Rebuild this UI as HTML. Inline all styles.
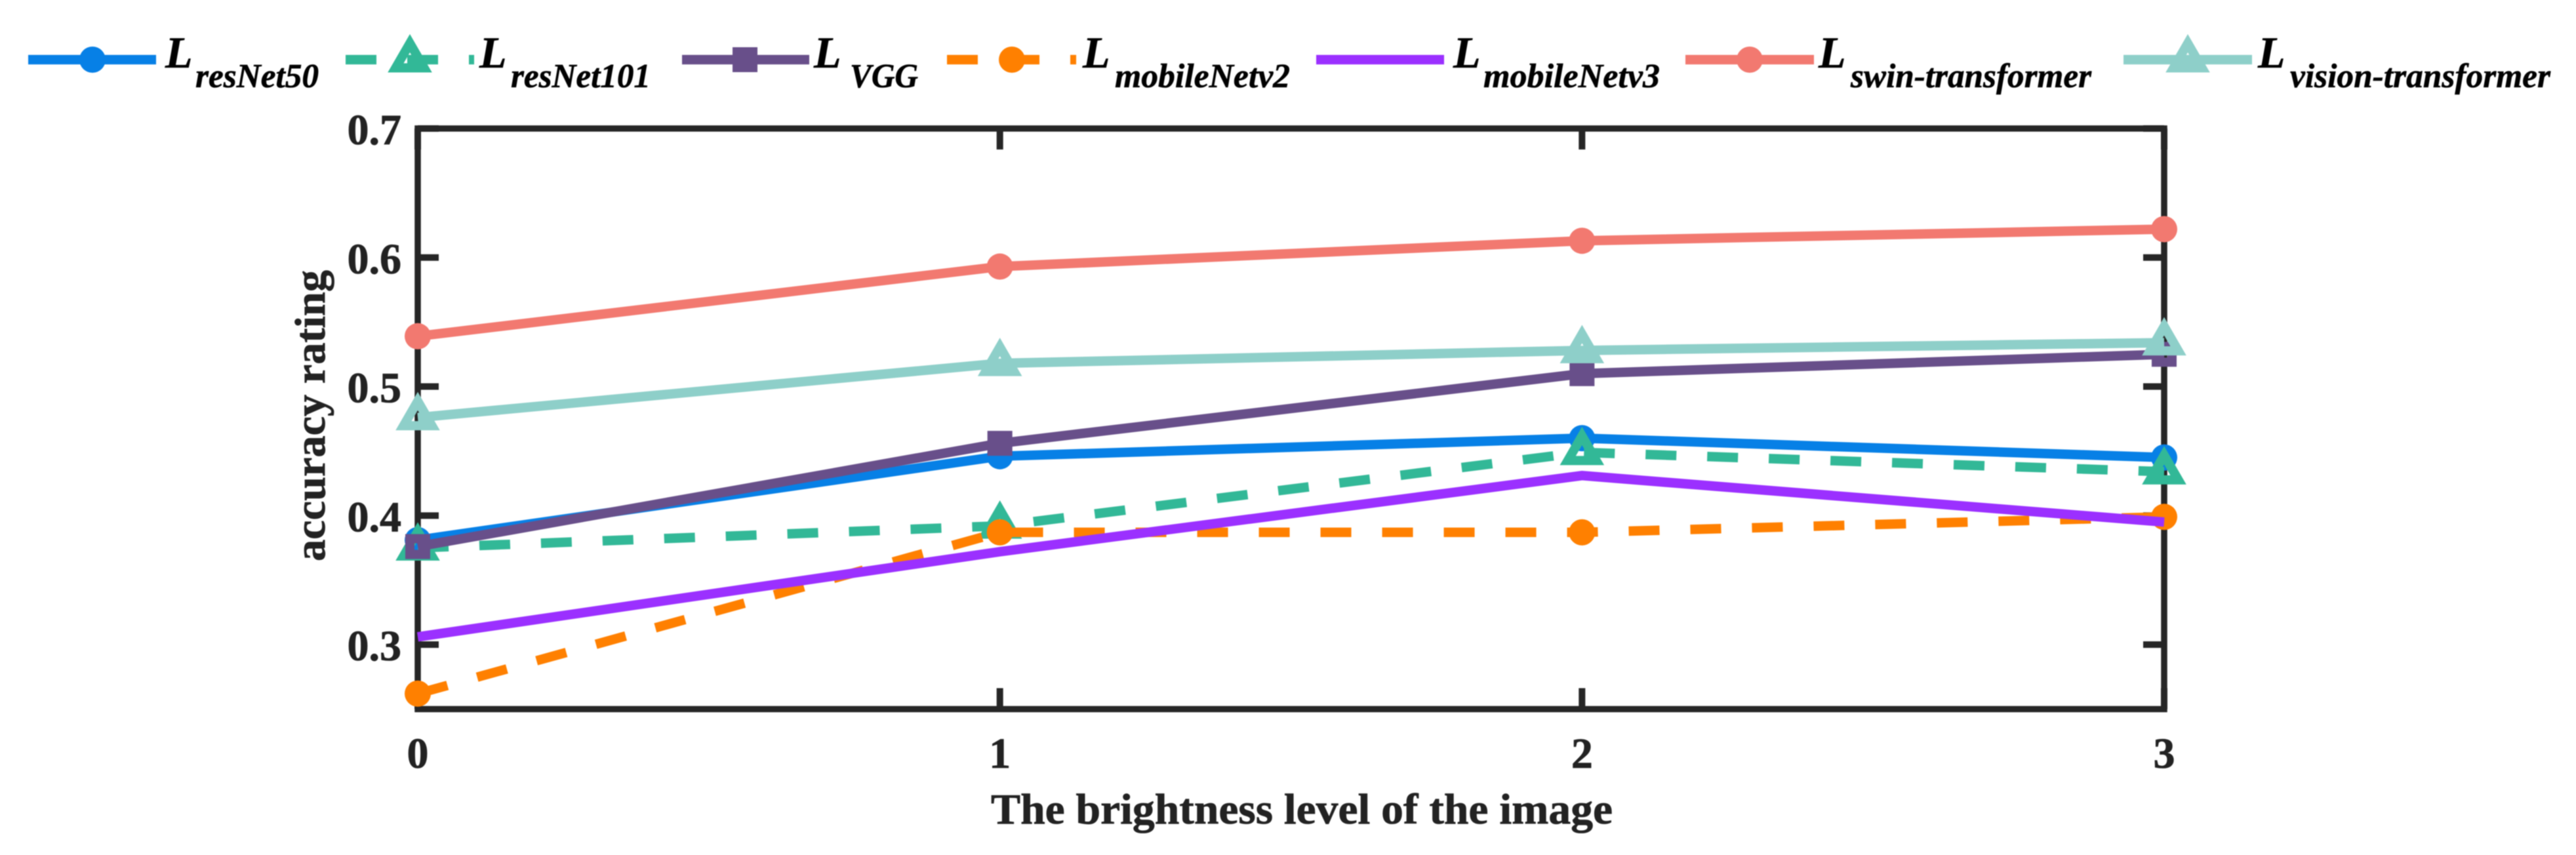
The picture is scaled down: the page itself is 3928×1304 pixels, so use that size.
<!DOCTYPE html>
<html lang="en">
<head>
<meta charset="utf-8">
<title>Accuracy rating vs. image brightness level</title>
<style>
  html, body { margin: 0; padding: 0; background: #ffffff; }
  body { width: 3928px; height: 1304px; overflow: hidden; }
  svg { display: block; filter: blur(0.8px); }
  text { font-family: "Liberation Serif", serif; fill: #222222; }
  .tick-label { font-weight: bold; font-size: 66px; stroke: #222222; stroke-width: 0.8px; }
  .axis-title { font-weight: bold; font-size: 66px; stroke: #222222; stroke-width: 0.8px; }
  .leg-l { font-style: italic; font-weight: bold; font-size: 68px; fill: #000; stroke: #000; stroke-width: 0.6px; }
  .leg-s { font-style: italic; font-weight: bold; font-size: 52px; fill: #000; stroke: #000; stroke-width: 0.6px; }
</style>
</head>
<body>
<svg id="chart" xmlns="http://www.w3.org/2000/svg" width="3928" height="1304" viewBox="0 0 3928 1304">
  <rect x="0" y="0" width="3928" height="1304" fill="#ffffff"/>

  <g id="legend">
    <g>
      <line x1="43" y1="91" x2="238" y2="91" stroke="#0780E6" stroke-width="14.5"/>
      <circle cx="141" cy="91" r="20" fill="#0780E6"/>
      <text class="leg-l" x="252" y="103">L</text>
      <text class="leg-s" x="298" y="133" textLength="188" lengthAdjust="spacingAndGlyphs">resNet50</text>
    </g>
    <g>
      <line x1="527" y1="91" x2="723" y2="91" stroke="#32B897" stroke-width="14.5" stroke-dasharray="47 47"/>
      <polygon points="625,66 646.650,103.500 603.350,103.500" fill="none" stroke="#32B897" stroke-width="14"/>
      <text class="leg-l" x="731" y="103">L</text>
      <text class="leg-s" x="779" y="133" textLength="213" lengthAdjust="spacingAndGlyphs">resNet101</text>
    </g>
    <g>
      <line x1="1040" y1="91" x2="1234" y2="91" stroke="#684F8A" stroke-width="14.5"/>
      <rect x="1124" y="79" width="24" height="24" fill="none" stroke="#684F8A" stroke-width="14"/>
      <text class="leg-l" x="1241" y="103">L</text>
      <text class="leg-s" x="1296" y="133" textLength="104" lengthAdjust="spacingAndGlyphs">VGG</text>
    </g>
    <g>
      <line x1="1444" y1="91" x2="1641" y2="91" stroke="#FF8000" stroke-width="14.5" stroke-dasharray="47 47"/>
      <circle cx="1543" cy="91" r="20" fill="#FF8000"/>
      <text class="leg-l" x="1651" y="103">L</text>
      <text class="leg-s" x="1700" y="133" textLength="267" lengthAdjust="spacingAndGlyphs">mobileNetv2</text>
    </g>
    <g>
      <line x1="2007" y1="91" x2="2202" y2="91" stroke="#9B30FF" stroke-width="14.5"/>
      <text class="leg-l" x="2216" y="103">L</text>
      <text class="leg-s" x="2262" y="133" textLength="269" lengthAdjust="spacingAndGlyphs">mobileNetv3</text>
    </g>
    <g>
      <line x1="2570" y1="91" x2="2766" y2="91" stroke="#F27970" stroke-width="14.5"/>
      <circle cx="2668" cy="91" r="20" fill="#F27970"/>
      <text class="leg-l" x="2773" y="103">L</text>
      <text class="leg-s" x="2822" y="133" textLength="367" lengthAdjust="spacingAndGlyphs">swin-transformer</text>
    </g>
    <g>
      <line x1="3238" y1="91" x2="3434" y2="91" stroke="#8ECFC9" stroke-width="14.5"/>
      <polygon points="3336,66 3357.650,103.500 3314.350,103.500" fill="none" stroke="#8ECFC9" stroke-width="14"/>
      <text class="leg-l" x="3443" y="103">L</text>
      <text class="leg-s" x="3492" y="133" textLength="397" lengthAdjust="spacingAndGlyphs">vision-transformer</text>
    </g>
  </g>

  <g id="axes"></g>
  <g id="series"></g>

  <text class="axis-title" x="1511" y="1256" textLength="948" lengthAdjust="spacingAndGlyphs">The brightness level of the image</text>
  <text class="axis-title" transform="translate(495,856) rotate(-90)" x="0" y="0" textLength="444" lengthAdjust="spacingAndGlyphs">accuracy rating</text>
</svg>

<script>
// Chart data
const categories = [0, 1, 2, 3];
const yTickValues = [0.3, 0.4, 0.5, 0.6, 0.7];
const yTickLabels = ['0.3', '0.4', '0.5', '0.6', '0.7'];
const xTickLabels = ['0', '1', '2', '3'];
const resNet50 = [0.381, 0.446, 0.460, 0.445];
const resNet101 = [0.375, 0.392, 0.449, 0.434];
const vgg = [0.376, 0.456, 0.510, 0.525];
const mobileNetV2 = [0.262, 0.387, 0.387, 0.399];
const mobileNetV3 = [0.306, 0.372, 0.431, 0.395];
const swinTransformer = [0.539, 0.593, 0.613, 0.622];
const visionTransformer = [0.476, 0.518, 0.528, 0.534];

const NS = 'http://www.w3.org/2000/svg';
const plot = { left: 637, right: 3300, top: 196, bottom: 1081.5 };
const xDomain = [0, 3];
const yDomain = [0.25, 0.7];
const xScale = v => plot.left + (v - xDomain[0]) / (xDomain[1] - xDomain[0]) * (plot.right - plot.left);
const yScale = v => plot.bottom - (v - yDomain[0]) / (yDomain[1] - yDomain[0]) * (plot.bottom - plot.top);

function make(tag, attrs, parent) {
  const el = document.createElementNS(NS, tag);
  for (const k in attrs) el.setAttribute(k, attrs[k]);
  parent.appendChild(el);
  return el;
}

// Axes
const axes = document.getElementById('axes');
const axisColor = '#262626';
const box = make('rect', { x: plot.left, y: plot.top, width: plot.right - plot.left, height: plot.bottom - plot.top, fill: 'none', stroke: axisColor, 'stroke-width': 9.5 }, axes);



const tickLen = 32;
yTickValues.forEach((v, i) => {
  const y = yScale(v);
  const left = make('line', { x1: plot.left, x2: plot.left + tickLen, y1: y, y2: y, stroke: axisColor, 'stroke-width': 10 }, axes);
  
  
  const right = make('line', { x1: plot.right - tickLen, x2: plot.right, y1: y, y2: y, stroke: axisColor, 'stroke-width': 10 }, axes);
  
  
  const label = make('text', { x: 612, y: y + 24, 'text-anchor': 'end', class: 'tick-label' }, axes);
  
  
  label.textContent = yTickLabels[i];
});

categories.forEach((c, i) => {
  const x = xScale(c);
  const bottom = make('line', { x1: x, x2: x, y1: plot.bottom, y2: plot.bottom - tickLen, stroke: axisColor, 'stroke-width': 10 }, axes);
  
  
  const top = make('line', { x1: x, x2: x, y1: plot.top, y2: plot.top + tickLen, stroke: axisColor, 'stroke-width': 10 }, axes);
  
  
  const label = make('text', { x: x, y: 1171, 'text-anchor': 'middle', class: 'tick-label' }, axes);
  
  
  label.textContent = xTickLabels[i];
});

// Series, in drawing order
const seriesList = [
  { key: 'resnet50', values: resNet50, color: '#0780E6', dashed: false, marker: 'circle' },
  { key: 'resnet101', values: resNet101, color: '#32B897', dashed: true, marker: 'triangle' },
  { key: 'vgg', values: vgg, color: '#684F8A', dashed: false, marker: 'square' },
  { key: 'mobilenetv2', values: mobileNetV2, color: '#FF8000', dashed: true, marker: 'circle' },
  { key: 'mobilenetv3', values: mobileNetV3, color: '#9B30FF', dashed: false, marker: 'none' },
  { key: 'swin-transformer', values: swinTransformer, color: '#F27970', dashed: false, marker: 'circle' },
  { key: 'vision-transformer', values: visionTransformer, color: '#8ECFC9', dashed: false, marker: 'triangle' }
];

const seriesGroup = document.getElementById('series');
const markerStroke = 14;
seriesList.forEach(s => {
  const pts = s.values.map((v, i) => [xScale(categories[i]), yScale(v)]);
  const attrs = { points: pts.map(p => p.join(',')).join(' '), fill: 'none', stroke: s.color, 'stroke-width': 14.5, 'stroke-linejoin': 'miter' };
  if (s.dashed) attrs['stroke-dasharray'] = '47 47';
  const line = make('polyline', attrs, seriesGroup);
  
  
  if (s.marker === 'none') return;
  pts.forEach(p => {
    let m;
    if (s.marker === 'circle') {
      m = make('circle', { cx: p[0], cy: p[1], r: 20, fill: s.color }, seriesGroup);
    } else if (s.marker === 'square') {
      m = make('rect', { x: p[0] - 12, y: p[1] - 12, width: 24, height: 24, fill: 'none', stroke: s.color, 'stroke-width': markerStroke }, seriesGroup);
    } else {
      const tri = [[p[0], p[1] - 25], [p[0] + 21.65, p[1] + 12.5], [p[0] - 21.65, p[1] + 12.5]];
      m = make('polygon', { points: tri.map(q => q.join(',')).join(' '), fill: 'none', stroke: s.color, 'stroke-width': markerStroke }, seriesGroup);
    }
    
    
  });
});
</script>
</body>
</html>
